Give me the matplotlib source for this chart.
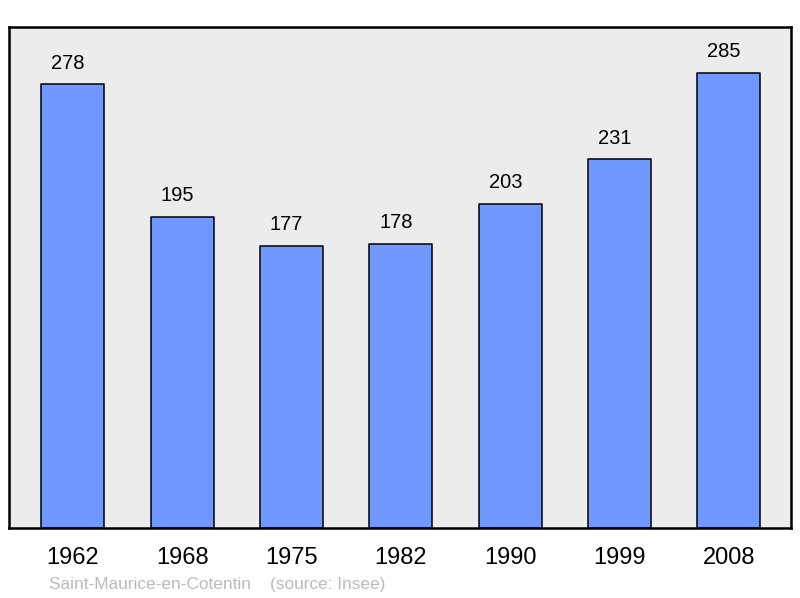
import matplotlib

matplotlib.use("Agg")

import matplotlib.pyplot as plt

plt.rcParams['font.family'] = ['Liberation Sans', 'DejaVu Sans']

# Population data (Insee)
years = ["1962", "1968", "1975", "1982", "1990", "1999", "2008"]
population = [278, 195, 177, 178, 203, 231, 285]

fig = plt.figure(figsize=(8, 5.98), dpi=100)
ax = fig.add_axes([9 / 800, 70 / 598, 782 / 800, 501 / 598])
ax.set_facecolor('#ececec')

x = range(len(years))
bars = ax.bar(x, population, width=0.576, color='#7099ff', edgecolor='black',
              linewidth=1.1, joinstyle='round', zorder=2)

for xi, v in zip(x, population):
    ax.annotate(str(v), (xi, v), xytext=(-3.5, 8.5), textcoords='offset points',
                ha='center', va='bottom', fontsize=14.5)

ax.set_xlim(-0.585, 6.57)
ax.set_ylim(0, 314)
ax.set_xticks(list(x))
ax.set_xticklabels(years, fontsize=17)
ax.tick_params(axis='x', length=0, pad=14)
ax.set_yticks([])
for s in ax.spines.values():
    s.set_linewidth(1.8)

fig.text(49 / 800, 1 - 585 / 598, "Saint-Maurice-en-Cotentin    (source: Insee)",
         color='#bbbbbb', fontsize=12.4, va='center', ha='left')

plt.savefig("out.png", dpi=100)
